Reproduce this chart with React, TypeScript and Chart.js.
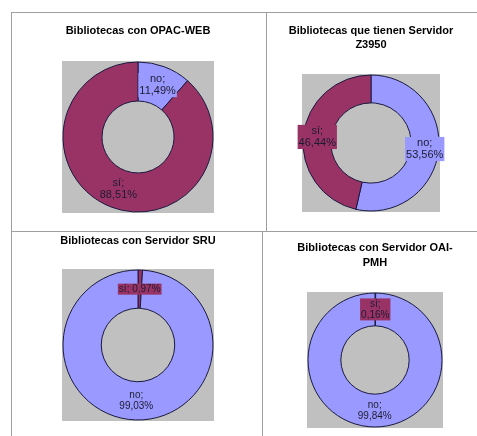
import React, { useEffect, useRef } from "react";
import { Chart, registerables } from "chart.js";

Chart.register(...registerables);

// ---- data ----
const opacTitle = ["Bibliotecas con OPAC-WEB"];
const opacCategories = ["no", "sí"];
const opacValues = [11.49, 88.51];

const z3950Title = ["Bibliotecas que tienen Servidor", "Z3950"];
const z3950Categories = ["no", "sí"];
const z3950Values = [53.56, 46.44];

const sruTitle = ["Bibliotecas con Servidor SRU"];
const sruCategories = ["sí", "no"];
const sruValues = [0.97, 99.03];

const oaiTitle = ["Bibliotecas con Servidor OAI-", "PMH"];
const oaiCategories = ["sí", "no"];
const oaiValues = [0.16, 99.84];

// ---- styles ----
const SEG_COLORS: Record<string, string> = { "sí": "#993366", no: "#9999ff" };
const PLOT_GRAY = "#c0c0c0";
const FONT = '"Liberation Sans", Arial, sans-serif';
const LINE = "#9f9f9f";

type PanelProps = {
  title: string[];
  categories: string[];
  values: number[];
  left: number;
  top: number;
  width: number;
  height: number;
  cyRel: number;
  radius: number;
  cutout: string;
  titlePadTop: number;
  titleLineHeight: number;
  labelSize: number;
  singleLine?: boolean[];
};

function fmt(v: number) {
  return v.toFixed(2).replace(".", ",") + "%";
}

function Panel(p: PanelProps) {
  const ref = useRef<HTMLCanvasElement | null>(null);
  useEffect(() => {
    if (!ref.current) return;
    const lh = 11 * p.titleLineHeight;
    const tb0 = p.titlePadTop + p.title.length * lh;
    const needed = 2 * p.cyRel - p.height;
    let padBottom = 0;
    let layoutBottom = 0;
    if (needed >= tb0) padBottom = needed - tb0;
    else layoutBottom = tb0 - needed;

    const squarePlugin = {
      id: "graySquare",
      beforeDatasetsDraw(chart: any) {
        const arc = chart.getDatasetMeta(0).data[0];
        if (!arc) return;
        const { x, y, outerRadius } = arc.getProps(["x", "y", "outerRadius"], true);
        const ctx = chart.ctx;
        ctx.save();
        ctx.fillStyle = PLOT_GRAY;
        const r = outerRadius + 1;
        ctx.fillRect(x - r, y - r, 2 * r, 2 * r);
        ctx.restore();
      },
    };

    const labelPlugin = {
      id: "sliceLabels",
      afterDatasetsDraw(chart: any) {
        const ctx = chart.ctx;
        const meta = chart.getDatasetMeta(0);
        meta.data.forEach((arc: any, i: number) => {
          const pos = arc.tooltipPosition(true);
          const cat = p.categories[i];
          const pct = fmt(p.values[i]);
          const single = p.singleLine ? p.singleLine[i] : false;
          const lines = single ? [cat + "; " + pct] : [cat + ";", pct];
          ctx.save();
          ctx.font = `${p.labelSize}px ${FONT}`;
          const w = Math.max(...lines.map((l) => ctx.measureText(l).width));
          const llh = p.labelSize * 1.1;
          const h = lines.length * llh;
          ctx.fillStyle = SEG_COLORS[cat];
          ctx.fillRect(pos.x - w / 2 - 1, pos.y - h / 2, w + 2, h);
          ctx.fillStyle = "#1c1c30";
          ctx.textAlign = "center";
          ctx.textBaseline = "middle";
          lines.forEach((l, j) => ctx.fillText(l, pos.x, pos.y - h / 2 + llh * (j + 0.5)));
          ctx.restore();
        });
      },
    };

    const chart = new Chart(ref.current, {
      type: "doughnut",
      data: {
        labels: p.categories,
        datasets: [
          {
            data: p.values,
            backgroundColor: p.categories.map((c) => SEG_COLORS[c]),
            borderColor: "#1a1a40",
            borderWidth: 1,
          },
        ],
      },
      options: {
        responsive: false,
        animation: false,
        radius: p.radius,
        cutout: p.cutout,
        layout: { padding: { top: 0, bottom: layoutBottom, left: 0, right: 0 } },
        plugins: {
          legend: { display: false },
          tooltip: { enabled: false },
          title: {
            display: true,
            text: p.title,
            color: "#000",
            font: { family: FONT, size: 11, weight: "bold", lineHeight: p.titleLineHeight },
            padding: { top: p.titlePadTop, bottom: padBottom },
          },
        },
      } as any,
      plugins: [squarePlugin, labelPlugin],
    });
    return () => chart.destroy();
  }, []);
  return (
    <canvas
      ref={ref}
      width={p.width}
      height={p.height}
      style={{ position: "absolute", left: p.left, top: p.top, width: p.width, height: p.height, display: "block" }}
    />
  );
}

function HLine({ x, y, w }: { x: number; y: number; w: number }) {
  return <div style={{ position: "absolute", left: x, top: y, width: w, height: 1, background: LINE }} />;
}
function VLine({ x, y, h }: { x: number; y: number; h: number }) {
  return <div style={{ position: "absolute", left: x, top: y, width: 1, height: h, background: LINE }} />;
}

export default function App() {
  return (
    <div
      style={{
        position: "absolute",
        left: 0,
        top: 0,
        width: 477,
        height: 436,
        background: "#ffffff",
        overflow: "hidden",
      }}
    >
      <Panel
        title={opacTitle}
        categories={opacCategories}
        values={opacValues}
        left={12}
        top={13}
        width={252}
        height={218}
        cyRel={124}
        radius={75}
        cutout="48%"
        titlePadTop={11}
        titleLineHeight={1.2}
        labelSize={11}
      />
      <Panel
        title={z3950Title}
        categories={z3950Categories}
        values={z3950Values}
        left={266}
        top={13}
        width={210}
        height={218}
        cyRel={130}
        radius={68}
        cutout="59%"
        titlePadTop={11}
        titleLineHeight={1.25}
        labelSize={11}
      />
      <Panel
        title={sruTitle}
        categories={sruCategories}
        values={sruValues}
        left={15}
        top={233}
        width={246}
        height={203}
        cyRel={112}
        radius={75}
        cutout="49%"
        titlePadTop={1}
        titleLineHeight={1.2}
        labelSize={10}
        singleLine={[true, false]}
      />
      <Panel
        title={oaiTitle}
        categories={oaiCategories}
        values={oaiValues}
        left={273}
        top={233}
        width={204}
        height={203}
        cyRel={127}
        radius={67}
        cutout="51%"
        titlePadTop={7.5}
        titleLineHeight={1.35}
        labelSize={10}
      />
      <HLine x={11} y={12} w={466} />
      <VLine x={11} y={12} h={424} />
      <VLine x={266} y={12} h={220} />
      <HLine x={11} y={231} w={466} />
      <VLine x={262} y={232} h={204} />
    </div>
  );
}
